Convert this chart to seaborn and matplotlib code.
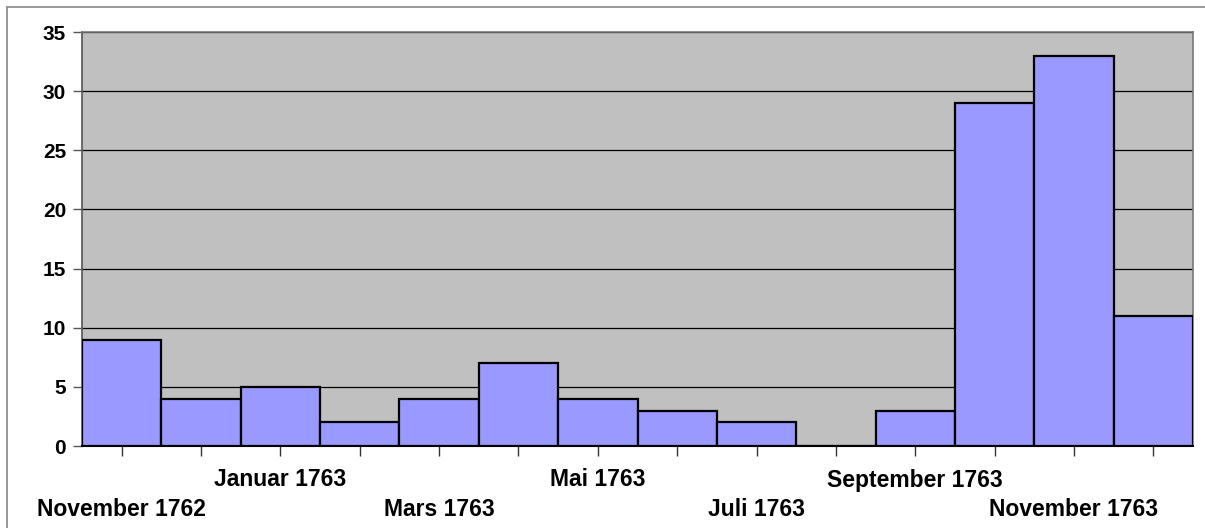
import matplotlib
matplotlib.use("Agg")
import matplotlib.pyplot as plt
import seaborn as sns
import pandas as pd
from matplotlib.lines import Line2D

months = ["November 1762", "Desember 1762", "Januar 1763", "Februar 1763",
          "Mars 1763", "April 1763", "Mai 1763", "Juni 1763", "Juli 1763",
          "August 1763", "September 1763", "Oktober 1763", "November 1763",
          "Desember 1763"]
counts = [9, 4, 5, 2, 4, 7, 4, 3, 2, 0, 3, 29, 33, 11]
shown_labels = ["November 1762", "Januar 1763", "Mars 1763", "Mai 1763",
                "Juli 1763", "September 1763", "November 1763"]
y_ticks = [0, 5, 10, 15, 20, 25, 30, 35]

sns.set_theme(style="white")
plt.rcParams['font.family'] = ['Liberation Sans', 'DejaVu Sans']
plt.rcParams['text.color'] = 'black'
plt.rcParams['xtick.color'] = 'black'
plt.rcParams['ytick.color'] = 'black'

df = pd.DataFrame({"month": months, "count": counts})

fig = plt.figure(figsize=(12.05, 5.28), dpi=100)
ax = fig.add_axes([82/1205, 1-446/528, (1193-82)/1205, (446-32)/528])
ax.set_facecolor("#C0C0C0")

sns.barplot(data=df, x="month", y="count", ax=ax, width=1.0, color="#9999FF",
            saturation=1, edgecolor="black", linewidth=1.6, zorder=3)

ax.set_ylim(0, 35)
ax.set_xlim(-0.5, len(months) - 0.5)
ax.set_yticks(y_ticks)
ax.set_yticklabels([str(v) for v in y_ticks], fontsize=15, fontweight="bold",
                   color="black")
ax.yaxis.grid(True, color="black", linewidth=0.9, zorder=0)
ax.set_axisbelow(True)

labels = []
for i, m in enumerate(months):
    if m in shown_labels and i % 2 == 0:
        if (i // 2) % 2 == 1:
            labels.append(m + "\n")
        else:
            labels.append("\n" + m)
    else:
        labels.append("")
ax.set_xticks(range(len(months)))
ax.set_xticklabels(labels, fontsize=16.5, fontweight="bold", linespacing=1.38,
                   color="black")

ax.tick_params(axis="x", direction="out", length=7.2, width=1, color="#333333",
               bottom=True, pad=9)
ax.tick_params(axis="y", direction="out", length=6.5, width=1, color="#555555",
               left=True, pad=5)
ax.set_xlabel("")
ax.set_ylabel("")

for s in ["top", "right"]:
    ax.spines[s].set_visible(True)
    ax.spines[s].set_color("#777777")
    ax.spines[s].set_linewidth(1.2)
ax.spines["left"].set_color("#555555")
ax.spines["left"].set_linewidth(1.2)
ax.spines["bottom"].set_color("black")
ax.spines["bottom"].set_linewidth(1.5)

# outer chart border
fig.add_artist(Line2D([7/1205, 1.0], [1-7/528, 1-7/528], transform=fig.transFigure,
                      color="#888888", linewidth=1.2))
fig.add_artist(Line2D([7/1205, 7/1205], [0, 1-7/528], transform=fig.transFigure,
                      color="#888888", linewidth=1.2))

fig.savefig("out.png", dpi=100)
